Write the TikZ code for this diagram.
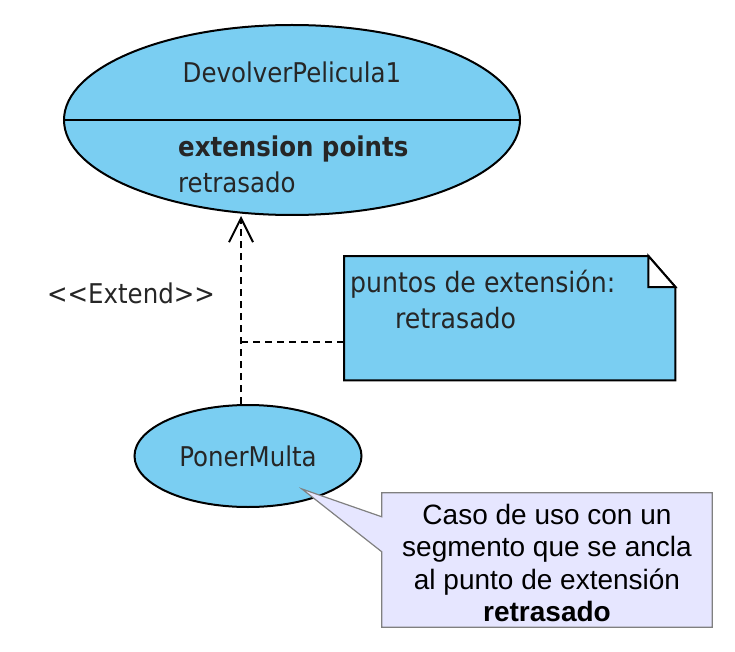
\documentclass[tikz,border=0pt]{standalone}
\usepackage{fontspec}
\setmainfont{Liberation Sans}
\newfontfamily\umlfont{DejaVu Sans Condensed}
\usetikzlibrary{arrows.meta,positioning,calc,shapes.geometric}

\definecolor{ucblue}{RGB}{122,206,242}
\definecolor{tipfill}{RGB}{230,230,255}
\definecolor{tipedge}{RGB}{128,128,128}

\tikzset{
    usecase/.style={ellipse, draw=black, line width=2pt, fill=ucblue, inner sep=0pt},
    umltext/.style={font=\umlfont\fontsize{27.2}{32}\selectfont, inner sep=0pt, text=black!85},
    notetext/.style={umltext, font=\umlfont\fontsize{28}{32}\selectfont},
    extendline/.style={line width=2pt, dash pattern=on 7pt off 5pt},
    tiptext/.style={font=\fontsize{28}{32.3}\selectfont, align=center, inner sep=0pt}
}

\begin{document}
\begin{tikzpicture}[x=1pt,y=-1pt]
        \useasboundingbox (0,0) rectangle (735,652);

        % caso de uso base
        \node[usecase, minimum width=456pt, minimum height=190pt] (devolver) at (292,120) {};
        \draw[line width=2pt] (devolver.west) -- (devolver.east);
        \node[umltext, anchor=base] (devname) at (292,83) {DevolverPelicula1};
        \node[umltext, anchor=base west] (devpoints) at (178,157) {\bfseries extension points};
        \node[umltext, anchor=base west] (devpoint) at (178,193) {retrasado};

        % caso de uso que extiende
        \node[usecase, umltext, minimum width=227pt, minimum height=102pt] (multa) at (248,456) {PonerMulta};
        \coordinate (ext) at (241,342);
        \draw[extendline, -{Straight Barb[length=24pt,width=24pt]}] (multa.north -| ext) -- (devolver.south -| ext);
        \node[umltext, anchor=base] (extlabel) at (131,303) {<\kern0pt<Extend>\kern0pt>};

        % nota
        \node[anchor=north west, minimum width=331pt, minimum height=124pt, inner sep=0pt] (nota) at (344,256) {};
        \draw[line width=2pt, fill=ucblue] (nota.north west) -- ([xshift=-27pt]nota.north east) -- ([yshift=-31pt]nota.north east) -- (nota.south east) -- (nota.south west) -- cycle;
        \draw[line width=2pt, fill=white] ([xshift=-27pt]nota.north east) -- ([xshift=-27pt,yshift=-31pt]nota.north east) -- ([yshift=-31pt]nota.north east) -- cycle;
        \draw[extendline] (ext) -- (ext -| nota.west);
        \node[notetext, anchor=base west] (notaline1) at (350,292) {puntos de extensión:};
        \node[notetext, anchor=base west] (notaline2) at (395,328) {retrasado};

        % globo
        \node[minimum width=330pt, minimum height=134pt, inner sep=0pt] (tip) at (547,560) {};
        \coordinate (tippoint) at (302,489);
        \draw[tipedge, fill=tipfill, line width=1.2pt] (tip.north west) -- (tip.north east) -- (tip.south east) -- (tip.south west) -- ([yshift=-59pt]tip.north west) -- (tippoint) -- ([yshift=-24pt]tip.north west) -- cycle;
        \node[tiptext] (tiplabel) at ([yshift=-3pt]tip.center) {Caso de uso con un\\segmento que se ancla\\al punto de extensión\\\textbf{retrasado}};

\end{tikzpicture}
\end{document}
